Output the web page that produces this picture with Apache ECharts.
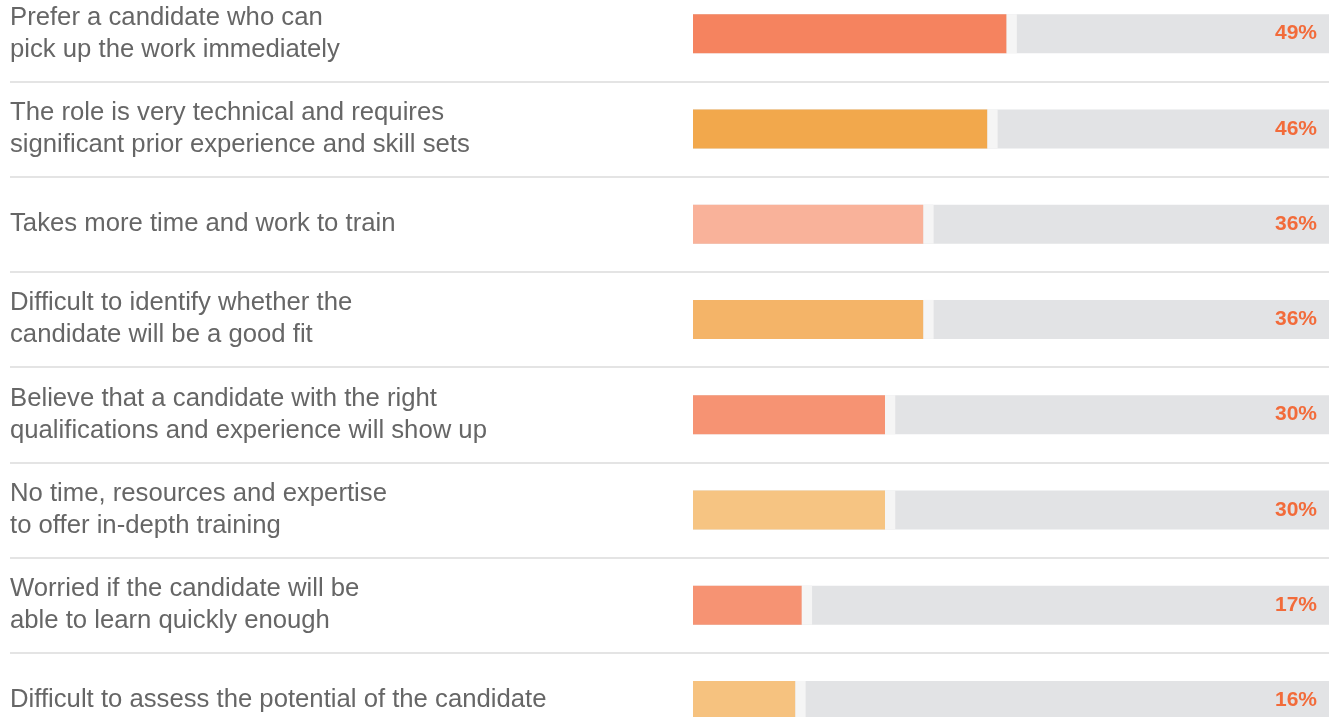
<!DOCTYPE html>
<html>
<head>
<meta charset="utf-8">
<script src="https://cdn.jsdelivr.net/npm/echarts@6/dist/echarts.min.js"></script>
<style>
  html, body { margin: 0; padding: 0; background: #fff; }
  #main { width: 1329px; height: 717px; }
</style>
</head>
<body>
<div id="main"></div>
<script>
  // reasons listed top to bottom
  var reasons = [
    'Prefer a candidate who can\npick up the work immediately',
    'The role is very technical and requires\nsignificant prior experience and skill sets',
    'Takes more time and work to train',
    'Difficult to identify whether the\ncandidate will be a good fit',
    'Believe that a candidate with the right\nqualifications and experience will show up',
    'No time, resources and expertise\nto offer in-depth training',
    'Worried if the candidate will be\nable to learn quickly enough',
    'Difficult to assess the potential of the candidate'
  ];
  var shares = [49, 46, 36, 36, 30, 30, 17, 16];
  var barColors = ['#f5835f', '#f2a84c', '#f9b29a', '#f4b468', '#f69373', '#f6c482', '#f69373', '#f6c27f'];

  var GAP = 1.6; // light strip between bar and track
  var gapData = shares.map(function () { return GAP; });
  var restData = shares.map(function (v) { return 100 - v - GAP; });

  var chart = echarts.init(document.getElementById('main'));
  var font = '"Liberation Sans", Arial, Helvetica, sans-serif';

  chart.setOption({
    animation: false,
    grid: [
      { left: 693, right: -4, top: -14, height: 762, outerBoundsMode: 'none' },
      { left: 10, right: 0, top: -14, height: 762, outerBoundsMode: 'none' }
    ],
    xAxis: [
      { gridIndex: 0, type: 'value', min: 0, max: 100, show: false },
      { gridIndex: 1, type: 'value', min: 0, max: 100, show: false }
    ],
    yAxis: [
      {
        gridIndex: 0,
        type: 'category',
        inverse: true,
        data: reasons,
        axisLine: { show: false },
        axisTick: { show: false },
        splitLine: { show: false },
        axisLabel: {
          margin: 683,
          align: 'left',
          color: '#666',
          fontSize: 25.7,
          lineHeight: 32,
          padding: [3, 0, 0, 0],
          fontFamily: font
        }
      },
      {
        gridIndex: 1,
        type: 'category',
        inverse: true,
        data: reasons,
        axisLine: { show: false },
        axisTick: { show: false },
        axisLabel: { show: false },
        splitLine: { show: true, lineStyle: { color: '#e4e4e4', width: 2 } }
      }
    ],
    series: [
      {
        type: 'bar',
        stack: 'row',
        barWidth: 39,
        data: shares.map(function (v, i) {
          return { value: v, itemStyle: { color: barColors[i] } };
        }),
        showBackground: true,
        backgroundStyle: { color: '#e2e3e5' }
      },
      {
        type: 'bar',
        stack: 'row',
        barWidth: 39,
        data: gapData,
        itemStyle: { color: '#f5f5f5' }
      },
      {
        type: 'bar',
        stack: 'row',
        barWidth: 39,
        data: restData,
        itemStyle: { color: 'rgba(0,0,0,0)' },
        label: {
          show: true,
          position: 'insideRight',
          distance: 16,
          color: '#f26b3a',
          fontSize: 21,
          fontWeight: 'bold',
          fontFamily: font,
          formatter: function (p) { return shares[p.dataIndex] + '%'; }
        }
      }
    ]
  });
</script>
</body>
</html>
